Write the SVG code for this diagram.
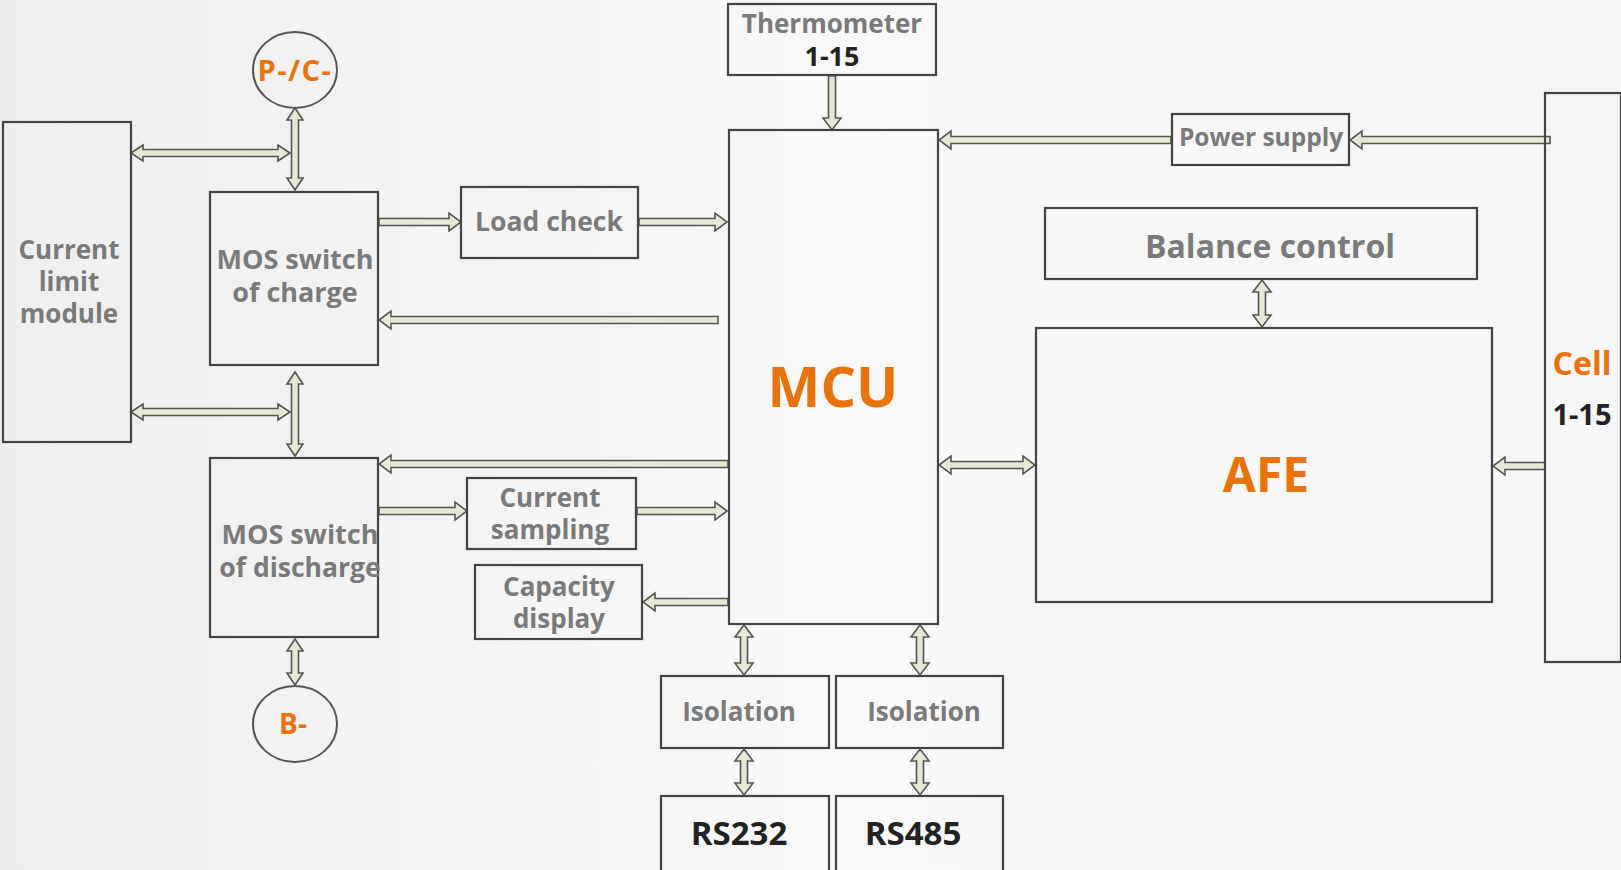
<svg xmlns="http://www.w3.org/2000/svg" width="1621" height="870" viewBox="0 0 1621 870">
<defs>
<linearGradient id="bg" x1="0" y1="0" x2="1" y2="0">
<stop offset="0" stop-color="#eeeeee"/>
<stop offset="0.5" stop-color="#f8f8f8"/>
<stop offset="1" stop-color="#f6f6f6"/>
</linearGradient>
<style>
.box{fill:none;stroke:#444;stroke-width:2.2}
.arr{fill:#e6e8d6;stroke:#555;stroke-width:1.6;stroke-linejoin:miter}
.t{font-family:"Open Sans","Noto Sans",sans-serif;font-weight:bold;fill:#7a7a7a;text-anchor:middle}
.o{font-family:"Open Sans","Noto Sans",sans-serif;font-weight:bold;fill:#e8720c;text-anchor:middle}
.k{font-family:"Open Sans","Noto Sans",sans-serif;font-weight:bold;fill:#222;text-anchor:middle}
</style>
</defs>
<rect width="1621" height="870" fill="url(#bg)"/>

<g id="connectors">
<path class="arr" d="M295,108 L303,120 L298.5,120 L298.5,178 L303,178 L295,190 L287,178 L291.5,178 L291.5,120 L287,120 Z"/>
<path class="arr" d="M131,153 L143,145 L143,149.5 L278,149.5 L278,145 L290,153 L278,161 L278,156.5 L143,156.5 L143,161 Z"/>
<path class="arr" d="M295,372 L303,384 L298.5,384 L298.5,444 L303,444 L295,456 L287,444 L291.5,444 L291.5,384 L287,384 Z"/>
<path class="arr" d="M131,412 L143,404 L143,408.5 L278,408.5 L278,404 L290,412 L278,420 L278,415.5 L143,415.5 L143,420 Z"/>
<path class="arr" d="M295,639 L303,651 L298.5,651 L298.5,673 L303,673 L295,685 L287,673 L291.5,673 L291.5,651 L287,651 Z"/>
<path class="arr" d="M379,218.5 L449,218.5 L449,213 L461,222 L449,231 L449,225.5 L379,225.5 Z"/>
<path class="arr" d="M639,218.5 L715,218.5 L715,213 L727,222 L715,231 L715,225.5 L639,225.5 Z"/>
<path class="arr" d="M718,316.5 L391,316.5 L391,311 L379,320 L391,329 L391,323.5 L718,323.5 Z"/>
<path class="arr" d="M728,460.5 L391,460.5 L391,455 L379,464 L391,473 L391,467.5 L728,467.5 Z"/>
<path class="arr" d="M379,507.5 L455,507.5 L455,502 L467,511 L455,520 L455,514.5 L379,514.5 Z"/>
<path class="arr" d="M637,507.5 L715,507.5 L715,502 L727,511 L715,520 L715,514.5 L637,514.5 Z"/>
<path class="arr" d="M728,598.5 L655,598.5 L655,593 L643,602 L655,611 L655,605.5 L728,605.5 Z"/>
<path class="arr" d="M828.5,76 L828.5,118 L823,118 L832,130 L841,118 L835.5,118 L835.5,76 Z"/>
<path class="arr" d="M1171,136.5 L951,136.5 L951,131 L939,140 L951,149 L951,143.5 L1171,143.5 Z"/>
<path class="arr" d="M1550,136.5 L1362,136.5 L1362,131 L1350,140 L1362,149 L1362,143.5 L1550,143.5 Z"/>
<path class="arr" d="M1262,280 L1271,292 L1265.5,292 L1265.5,315 L1271,315 L1262,327 L1253,315 L1258.5,315 L1258.5,292 L1253,292 Z"/>
<path class="arr" d="M939,465 L951,456 L951,461.5 L1023,461.5 L1023,456 L1035,465 L1023,474 L1023,468.5 L951,468.5 L951,474 Z"/>
<path class="arr" d="M1545,462.5 L1505,462.5 L1505,457 L1493,466 L1505,475 L1505,469.5 L1545,469.5 Z"/>
<path class="arr" d="M744,625 L753,637 L747.5,637 L747.5,663 L753,663 L744,675 L735,663 L740.5,663 L740.5,637 L735,637 Z"/>
<path class="arr" d="M920,625 L929,637 L923.5,637 L923.5,663 L929,663 L920,675 L911,663 L916.5,663 L916.5,637 L911,637 Z"/>
<path class="arr" d="M744,749 L753,761 L747.5,761 L747.5,783 L753,783 L744,795 L735,783 L740.5,783 L740.5,761 L735,761 Z"/>
<path class="arr" d="M920,749 L929,761 L923.5,761 L923.5,783 L929,783 L920,795 L911,783 L916.5,783 L916.5,761 L911,761 Z"/>
</g>

<g id="pc-circle">
<ellipse cx="295" cy="70" rx="42" ry="38" fill="none" stroke="#555" stroke-width="2"/>
<text class="o" x="295" y="81" font-size="29" letter-spacing="1.5">P-/C-</text>
</g>
<g id="b-circle">
<ellipse cx="295" cy="724" rx="42" ry="38" fill="none" stroke="#555" stroke-width="2"/>
<text class="o" x="293" y="734" font-size="28">B-</text>
</g>
<g id="current-limit">
<rect class="box" x="3" y="122" width="128" height="320"/>
<text class="t" x="69" y="259" font-size="26">Current</text>
<text class="t" x="69" y="291" font-size="26">limit</text>
<text class="t" x="69" y="323" font-size="26">module</text>
</g>
<g id="mos-charge">
<rect class="box" x="210" y="192" width="168" height="173"/>
<text class="t" x="295" y="269" font-size="27">MOS switch</text>
<text class="t" x="295" y="302" font-size="27">of charge</text>
</g>
<g id="mos-discharge">
<rect class="box" x="210" y="458" width="168" height="179"/>
<text class="t" x="300" y="544" font-size="27">MOS switch</text>
<text class="t" x="300" y="577" font-size="26.5">of discharge</text>
</g>
<g id="load-check">
<rect class="box" x="461" y="187" width="177" height="71"/>
<text class="t" x="549" y="231" font-size="26.5">Load check</text>
</g>
<g id="current-sampling">
<rect class="box" x="467" y="478" width="169" height="71"/>
<text class="t" x="550" y="507" font-size="26">Current</text>
<text class="t" x="550" y="539" font-size="26">sampling</text>
</g>
<g id="capacity-display">
<rect class="box" x="475" y="565" width="167" height="74"/>
<text class="t" x="559" y="596" font-size="26">Capacity</text>
<text class="t" x="559" y="628" font-size="26">display</text>
</g>
<g id="thermometer">
<rect class="box" x="728" y="4" width="208" height="71"/>
<text class="t" x="832" y="33" font-size="26">Thermometer</text>
<text class="k" x="832" y="66" font-size="27">1-15</text>
</g>
<g id="mcu">
<rect class="box" x="729" y="130" width="209" height="494"/>
<text class="o" x="833" y="407" font-size="56">MCU</text>
</g>
<g id="power-supply">
<rect class="box" x="1172" y="114" width="177" height="51"/>
<text class="t" x="1261" y="146" font-size="24.5">Power supply</text>
</g>
<g id="balance-control">
<rect class="box" x="1045" y="208" width="432" height="71"/>
<text class="t" x="1270" y="258" font-size="32">Balance control</text>
</g>
<g id="afe">
<rect class="box" x="1036" y="328" width="456" height="274"/>
<text class="o" x="1266" y="492" font-size="48">AFE</text>
</g>
<g id="cell">
<rect class="box" x="1545" y="93" width="76" height="569"/>
<text class="o" x="1582" y="375" font-size="32">Cell</text>
<text class="k" x="1582" y="425" font-size="29">1-15</text>
</g>
<g id="isolation-1">
<rect class="box" x="661" y="676" width="168" height="72"/>
<text class="t" x="739" y="721" font-size="26">Isolation</text>
</g>
<g id="isolation-2">
<rect class="box" x="836" y="676" width="167" height="72"/>
<text class="t" x="924" y="721" font-size="26">Isolation</text>
</g>
<g id="rs232">
<rect class="box" x="661" y="796" width="168" height="76"/>
<text class="k" x="739" y="845" font-size="33">RS232</text>
</g>
<g id="rs485">
<rect class="box" x="836" y="796" width="167" height="76"/>
<text class="k" x="913" y="845" font-size="33">RS485</text>
</g>
</svg>
